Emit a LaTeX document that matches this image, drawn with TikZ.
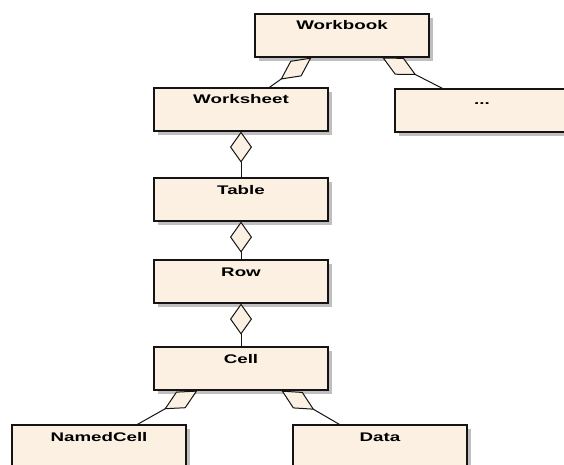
\documentclass[tikz,border=0pt]{standalone}
\usepackage{fontspec}
\newfontfamily\lblfont{Liberation Sans}[FakeStretch=1.5]
\usetikzlibrary{arrows.meta,shadows}
\definecolor{boxfill}{RGB}{251,240,225}
\definecolor{edge}{RGB}{20,20,20}
\tikzset{
  cls/.style={draw=edge, line width=1.2pt, fill=boxfill,
    minimum width=174pt, inner xsep=0pt, inner ysep=0pt,
    text height=16pt, text depth=27pt,
    font=\lblfont\bfseries\fontsize{12.5}{14}\selectfont,
    drop shadow={fill=black!25, opacity=1, shadow xshift=4pt, shadow yshift=-4pt}},
  aggv/.style={draw=edge, line width=1pt,
    {Diamond[length=31pt, width=22pt, fill=boxfill, line width=1pt]}-},
  aggs/.style={draw=edge, line width=1pt,
    {Diamond[length=38pt, width=19pt, fill=boxfill, line width=1pt]}-}
}
\begin{document}
\begin{tikzpicture}[x=1pt, y=-1pt]
  \useasboundingbox (0,0) rectangle (564,465);

  % class boxes
  \node[cls] (wb)    at (342,35.5)  {Workbook};
  \node[cls] (ws)    at (241,109.5) {Worksheet};
  \node[cls] (more)  at (482,110.5) {...};
  \node[cls] (tab)   at (241,199.5) {Table};
  \node[cls] (row)   at (241,281.5) {Row};
  \node[cls] (cell)  at (241,368.5) {Cell};
  \node[cls] (named) at (99,446.5)  {NamedCell};
  \node[cls] (data)  at (380,446.5) {Data};

  % attachment points of the slanted aggregations
  \coordinate (wb-l)    at ([xshift=57pt]wb.south west);
  \coordinate (wb-r)    at ([xshift=128pt]wb.south west);
  \coordinate (ws-t)    at ([xshift=116pt]ws.north west);
  \coordinate (more-t)  at ([xshift=48pt]more.north west);
  \coordinate (cell-l)  at ([xshift=44pt]cell.south west);
  \coordinate (cell-r)  at ([xshift=128pt]cell.south west);
  \coordinate (named-t) at ([xshift=126pt]named.north west);
  \coordinate (data-t)  at ([xshift=47pt]data.north west);

  % aggregations
  \draw[aggs] (wb-l) -- (ws-t);
  \draw[aggs] (wb-r) -- (more-t);
  \draw[aggv] (ws.south) -- (tab.north);
  \draw[aggv] (tab.south) -- (row.north);
  \draw[aggv] (row.south) -- (cell.north);
  \draw[aggs] (cell-l) -- (named-t);
  \draw[aggs] (cell-r) -- (data-t);
\end{tikzpicture}
\end{document}
